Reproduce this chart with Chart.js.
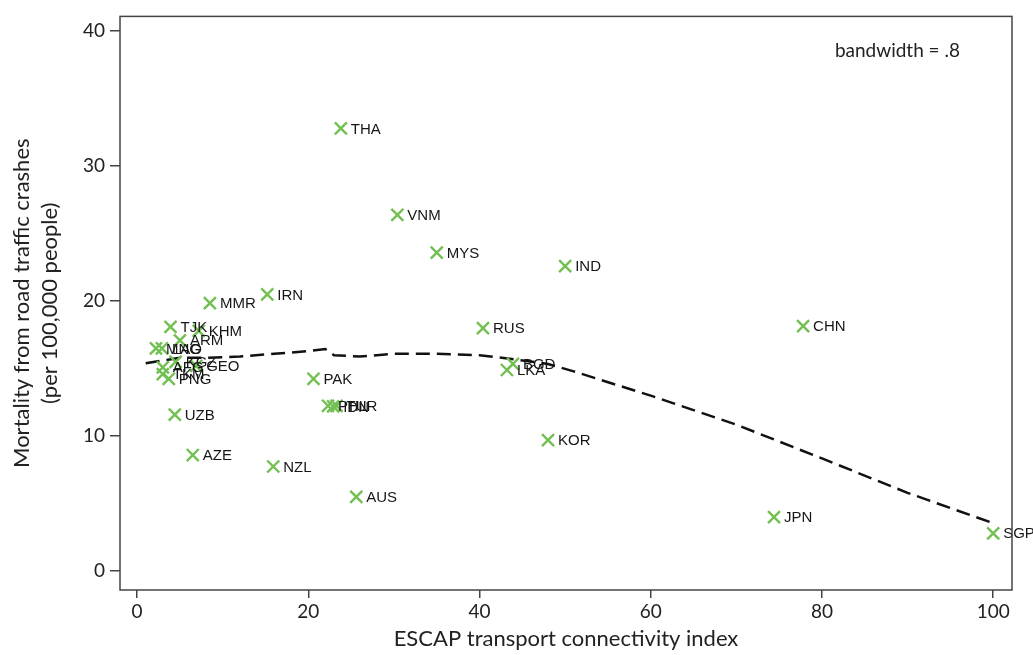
<!DOCTYPE html>
<html>
<head>
<meta charset="utf-8">
<script src="https://cdn.jsdelivr.net/npm/chart.js@4.4.1/dist/chart.umd.min.js"></script>
<style>
  body { margin: 0; background: #fff; }
  #wrap { width: 1033px; height: 655px; }
</style>
</head>
<body>
<div id="wrap"><canvas id="connectivityChart" width="1033" height="655"></canvas></div>
<script>
// paises (codigo ISO) con su indice de conectividad y mortalidad vial
const countries = ['THA', 'VNM', 'MYS', 'IND', 'RUS', 'CHN', 'MMR', 'IRN',
  'TJK', 'KHM', 'ARM', 'MNG', 'LAO', 'AFG', 'KGZ', 'GEO', 'TKM', 'PNG', 'UZB',
  'PAK', 'PHL', 'IDN', 'TUR', 'BGD', 'LKA', 'KOR', 'AZE', 'NZL', 'AUS', 'JPN', 'SGP'];
const connectivity = [23.8, 30.4, 35.0, 50.0, 40.4, 77.8, 8.5, 15.2,
  3.9, 7.2, 5.0, 2.2, 2.9, 3.0, 4.5, 6.9, 3.0, 3.7, 4.4,
  20.6, 22.3, 22.9, 23.3, 43.9, 43.2, 48.0, 6.5, 15.9, 25.6, 74.4, 100];
const mortality = [32.8, 26.4, 23.6, 22.6, 18.0, 18.15, 19.85, 20.5,
  18.1, 17.8, 17.1, 16.5, 16.5, 15.1, 15.5, 15.2, 14.6, 14.25, 11.6,
  14.25, 12.25, 12.2, 12.25, 15.35, 14.9, 9.7, 8.6, 7.75, 5.5, 4.0, 2.8];

// curva suavizada (lowess, bandwidth .8)
const smoothX = [1, 3, 5, 8, 12, 16, 20, 22, 23, 26, 30, 35, 40, 44, 48, 51, 60, 70, 80, 90, 100];
const smoothY = [15.4, 15.6, 15.8, 15.8, 15.9, 16.1, 16.3, 16.45, 16.0, 15.9, 16.1, 16.1, 16.0,
  15.7, 15.35, 14.8, 13.0, 10.85, 8.35, 5.8, 3.55];

const xTicks = [0, 20, 40, 60, 80, 100];
const yTicks = [0, 10, 20, 30, 40];

const tickFont = { family: 'Lato, "Open Sans", sans-serif', size: 19 };
const titleFont = { family: 'Lato, "Open Sans", sans-serif', size: 22, lineHeight: 1.27 };

// etiquetas de pais al lado de cada marcador
const pointLabels = {
  id: 'pointLabels',
  afterDatasetsDraw(chart) {
    const ctx = chart.ctx;
    const meta = chart.getDatasetMeta(0);
    ctx.save();
    ctx.font = '15px "Liberation Sans", Arial, sans-serif';
    ctx.fillStyle = '#161616';
    ctx.textAlign = 'left';
    ctx.textBaseline = 'middle';
    meta.data.forEach((pt, i) => {
      ctx.fillText(countries[i], pt.x + 10, pt.y + 1);
    });
    ctx.restore();
  }
};

// marco completo del area del grafico + nota de bandwidth
const frameBox = {
  id: 'frameBox',
  afterDraw(chart) {
    const { ctx, chartArea: a } = chart;
    ctx.save();
    ctx.strokeStyle = '#444';
    ctx.lineWidth = 1.5;
    ctx.strokeRect(a.left, a.top, a.right - a.left, a.bottom - a.top);
    ctx.font = '19px Lato, "Open Sans", sans-serif';
    ctx.fillStyle = '#222';
    ctx.textAlign = 'right';
    ctx.textBaseline = 'middle';
    ctx.fillText('bandwidth = .8', a.right - 52, a.top + 34);
    ctx.restore();
  }
};

const ctx = document.querySelector('#connectivityChart').getContext('2d');
const myChart = new Chart(ctx, {
  type: 'scatter',
  data: {
    datasets: [{
      label: 'Paises',
      data: connectivity.map((x, i) => ({ x: x, y: mortality[i] })),
      pointStyle: 'crossRot',
      pointRadius: 8.5,
      pointHoverRadius: 8.5,
      borderWidth: 2.4,
      borderColor: '#72c052',
      backgroundColor: '#72c052'
    }, {
      label: 'Lowess',
      data: smoothX.map((x, i) => ({ x: x, y: smoothY[i] })),
      showLine: true,
      borderColor: '#111',
      borderWidth: 2.5,
      borderDash: [14, 7],
      pointRadius: 0,
      tension: 0
    }]
  },
  options: {
    responsive: false,
    animation: false,
    layout: { padding: { top: 14, right: 21, left: 0, bottom: 0 } },
    plugins: {
      legend: { display: false },
      tooltip: { enabled: false }
    },
    scales: {
      x: {
        type: 'linear',
        min: -2,
        max: 102.2,
        afterBuildTicks: s => { s.ticks = xTicks.map(v => ({ value: v })); },
        afterFit: s => { s.height = 65; },
        border: { display: false },
        grid: { drawOnChartArea: false, drawTicks: true, tickLength: 8, color: '#444', lineWidth: 1.5 },
        ticks: { color: '#222', font: tickFont, padding: 2, maxRotation: 0 },
        title: {
          display: true,
          text: 'ESCAP transport connectivity index',
          color: '#222',
          font: titleFont,
          padding: { top: 0, bottom: 2 }
        }
      },
      y: {
        type: 'linear',
        min: -1.4,
        max: 41.1,
        afterBuildTicks: s => { s.ticks = yTicks.map(v => ({ value: v })); },
        afterFit: s => { s.width = 120; },
        border: { display: false },
        grid: { drawOnChartArea: false, drawTicks: true, tickLength: 10, color: '#444', lineWidth: 1.5 },
        ticks: { color: '#222', font: tickFont, padding: 5 },
        title: {
          display: true,
          text: ['Mortality from road traffic crashes', '(per 100,000 people)'],
          color: '#222',
          font: titleFont,
          padding: { top: 8, bottom: 0 }
        }
      }
    }
  },
  plugins: [pointLabels, frameBox]
});
</script>
</body>
</html>
